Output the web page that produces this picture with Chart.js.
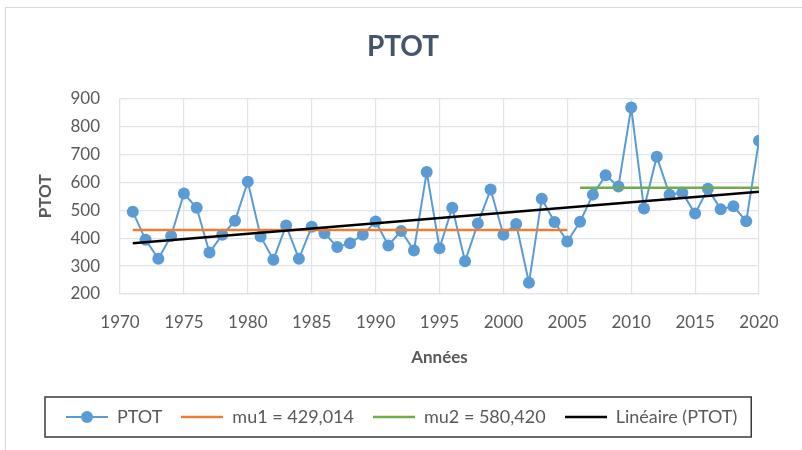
<!DOCTYPE html>
<html>
<head>
<meta charset="utf-8">
<script src="https://cdn.jsdelivr.net/npm/chart.js@4.4.0/dist/chart.umd.min.js"></script>
<style>
  html, body { margin: 0; padding: 0; background: #fff; }
</style>
</head>
<body>
<canvas id="ptotChart" width="802" height="450"></canvas>
<script>
// annual totals
const years = [
  1971, 1972, 1973, 1974, 1975, 1976, 1977, 1978, 1979, 1980,
  1981, 1982, 1983, 1984, 1985, 1986, 1987, 1988, 1989, 1990,
  1991, 1992, 1993, 1994, 1995, 1996, 1997, 1998, 1999, 2000,
  2001, 2002, 2003, 2004, 2005, 2006, 2007, 2008, 2009, 2010,
  2011, 2012, 2013, 2014, 2015, 2016, 2017, 2018, 2019, 2020
];
const ptot = [
  495, 394, 326, 408, 560, 509, 349, 412, 462, 602,
  406, 323, 445, 326, 441, 418, 368, 382, 412, 460,
  374, 426, 356, 637, 364, 509, 317, 453, 574, 412,
  451, 240, 541, 458, 388, 459, 556, 625, 585, 868,
  506, 692, 556, 563, 488, 577, 504, 514, 461, 749
];
const mu1 = 429.014;
const mu1Years = [1971, 2005];
const mu2 = 580.420;
const mu2Years = [2006, 2020];
const xTicks = [1970, 1975, 1980, 1985, 1990, 1995, 2000, 2005, 2010, 2015, 2020];
const yTicks = [200, 300, 400, 500, 600, 700, 800, 900];

const blue = "#5b9bd5";
const orange = "#ed7d31";
const green = "#70ad47";
const textGray = "#595959";
const gridGray = "#dfe4ec";

// Excel "Linéaire" trendline = least squares fit on the series
const n = years.length;
const mx = years.reduce((a, b) => a + b, 0) / n;
const my = ptot.reduce((a, b) => a + b, 0) / n;
let sxy = 0, sxx = 0;
years.forEach((x, i) => {
  sxy += (x - mx) * (ptot[i] - my);
  sxx += (x - mx) * (x - mx);
});
const slope = sxy / sxx;
const intercept = my - slope * mx;
const trendYears = [years[0], years[n - 1]];

function legendIcon(color, width, dot) {
  const c = document.createElement("canvas");
  c.width = 42;
  c.height = 14;
  const g = c.getContext("2d");
  g.strokeStyle = color;
  g.lineWidth = width;
  g.beginPath();
  g.moveTo(0, 7);
  g.lineTo(42, 7);
  g.stroke();
  if (dot) {
    g.fillStyle = color;
    g.beginPath();
    g.arc(21, 7, 6, 0, Math.PI * 2);
    g.fill();
  }
  return c;
}

const icons = [
  legendIcon(blue, 2, true),
  legendIcon(orange, 2.5, false),
  legendIcon(green, 2.5, false),
  legendIcon("#000", 2.5, false)
];

const frame = {
  id: "frame",
  beforeDraw(chart) {
    const c = chart.ctx;
    c.save();
    c.fillStyle = "#fff";
    c.fillRect(0, 0, chart.width, chart.height);
    c.strokeStyle = "#d9d9d9";
    c.lineWidth = 1;
    c.strokeRect(5.5, 7.5, 830, 500);
    c.restore();
  },
  afterDraw(chart) {
    const boxes = chart.legend.legendHitBoxes;
    if (!boxes || !boxes.length) return;
    const last = boxes[boxes.length - 1];
    const mid = boxes[0].top + boxes[0].height / 2;
    const c = chart.ctx;
    c.save();
    c.strokeStyle = "#3a3a3a";
    c.lineWidth = 1.5;
    const left = chart.legend.left - 2;
    c.strokeRect(left, mid - 20, last.left + last.width + 14 - left, 40);
    c.restore();
  }
};

const ctx = document.getElementById("ptotChart").getContext("2d");

new Chart(ctx, {
  type: "line",
  data: {
    datasets: [
      {
        label: "PTOT",
        data: years.map((y, i) => ({ x: y, y: ptot[i] })),
        borderColor: blue,
        backgroundColor: blue,
        borderWidth: 2,
        pointRadius: 6,
        pointBorderWidth: 0,
        pointBackgroundColor: blue,
        tension: 0,
        order: 4
      },
      {
        label: "mu1 = 429,014",
        data: mu1Years.map(y => ({ x: y, y: mu1 })),
        borderColor: orange,
        borderWidth: 2.5,
        pointRadius: 0,
        order: 2
      },
      {
        label: "mu2 = 580,420",
        data: mu2Years.map(y => ({ x: y, y: mu2 })),
        borderColor: green,
        borderWidth: 2.5,
        pointRadius: 0,
        order: 2
      },
      {
        label: "Linéaire (PTOT)",
        data: trendYears.map(y => ({ x: y, y: intercept + slope * y })),
        borderColor: "#000",
        borderWidth: 2.5,
        pointRadius: 0,
        order: 1
      }
    ]
  },
  options: {
    responsive: false,
    animation: false,
    devicePixelRatio: 1,
    layout: { padding: { left: 47, right: 43, top: 0, bottom: 14 } },
    plugins: {
      title: {
        display: true,
        text: "PTOT",
        color: "#44546a",
        font: { family: "Lato", size: 28, weight: "bold" },
        padding: { top: 30, bottom: 35 }
      },
      legend: {
        position: "bottom",
        align: "start",
        labels: {
          usePointStyle: true,
          pointStyleWidth: 42,
          boxHeight: 14,
          padding: 19,
          color: textGray,
          font: { family: "Lato", size: 18 },
          generateLabels: chart => chart.data.datasets.map((ds, i) => ({
            text: ds.label,
            pointStyle: icons[i],
            fillStyle: "transparent",
            strokeStyle: "transparent",
            lineWidth: 0,
            fontColor: textGray,
            datasetIndex: i
          }))
        }
      },
      tooltip: { enabled: false }
    },
    scales: {
      x: {
        type: "linear",
        min: xTicks[0],
        max: xTicks[xTicks.length - 1],
        afterBuildTicks: scale => { scale.ticks = xTicks.map(v => ({ value: v })); },
        afterFit: scale => { scale.height = 95; },
        ticks: {
          color: textGray,
          padding: 18,
          maxRotation: 0,
          font: { family: "Lato", size: 17 },
          callback: v => String(v)
        },
        grid: { color: gridGray, lineWidth: 1.2, drawTicks: false },
        border: { color: gridGray, width: 1.2 },
        title: {
          display: true,
          text: "Années",
          color: textGray,
          font: { family: "Lato", size: 17, weight: "bold" },
          padding: { top: 0, bottom: 21 }
        }
      },
      y: {
        min: yTicks[0],
        max: yTicks[yTicks.length - 1],
        afterBuildTicks: scale => { scale.ticks = yTicks.map(v => ({ value: v })); },
        afterFit: scale => { scale.width = 73; },
        ticks: {
          color: textGray,
          padding: 20,
          font: { family: "Lato", size: 17 }
        },
        grid: { color: gridGray, lineWidth: 1.2, drawTicks: false },
        border: { color: gridGray, width: 1.2 },
        title: {
          display: true,
          text: "PTOT",
          color: textGray,
          font: { family: "Lato", size: 17, weight: "bold" },
          padding: { top: -12, bottom: 0 }
        }
      }
    }
  },
  plugins: [frame]
});
</script>
</body>
</html>
